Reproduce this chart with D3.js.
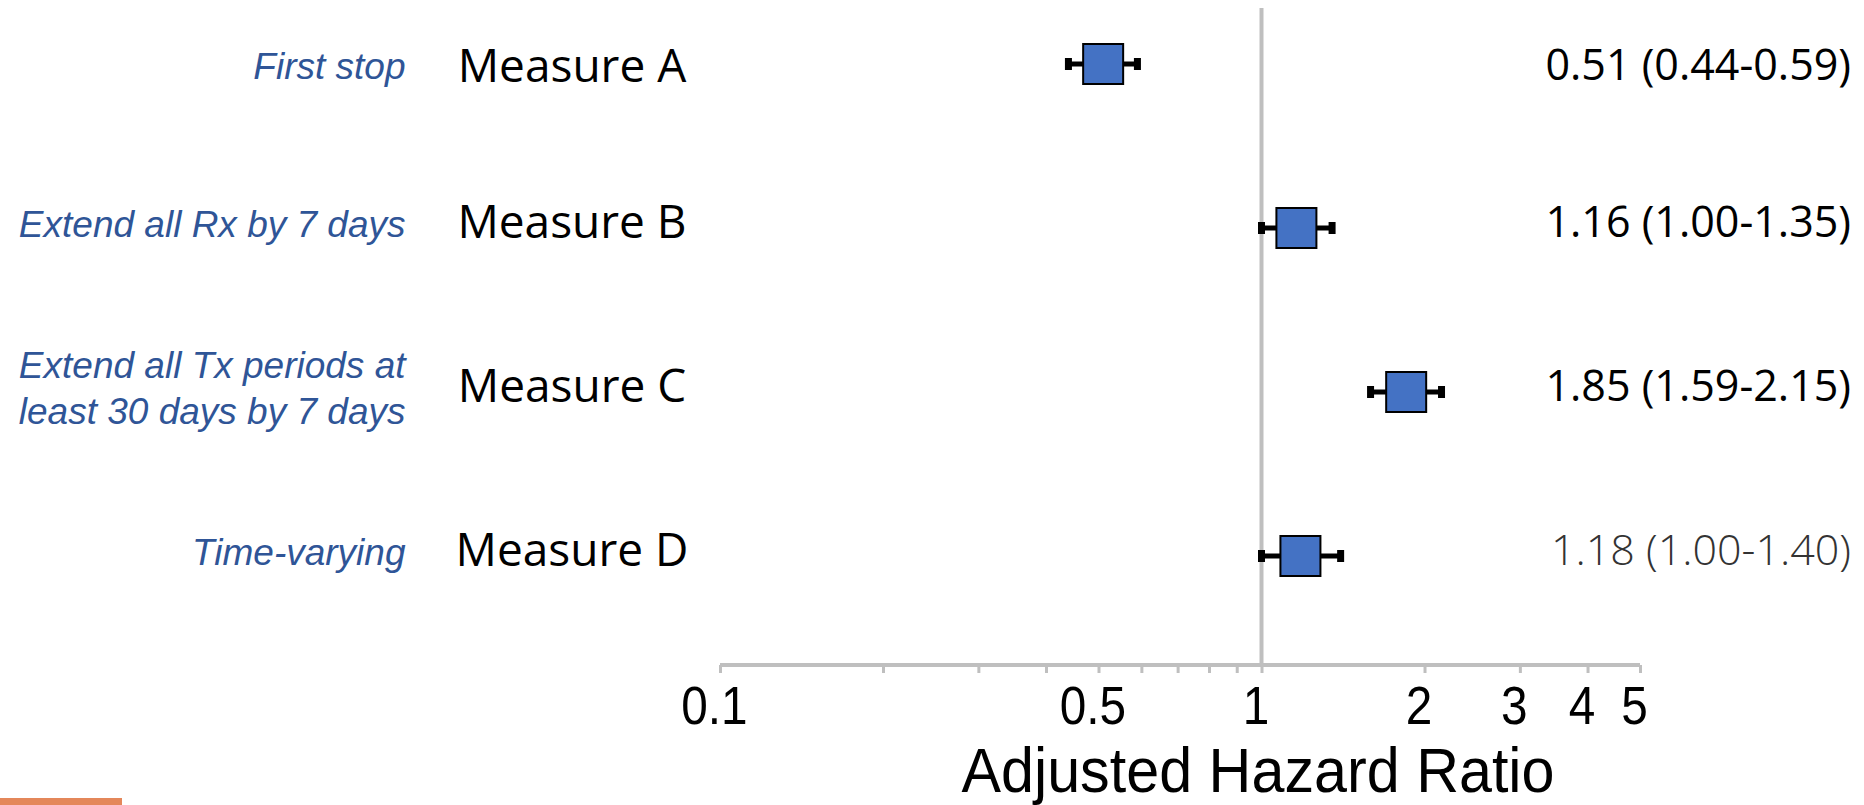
<!DOCTYPE html>
<html>
<head>
<meta charset="utf-8">
<script src="https://cdn.jsdelivr.net/npm/d3@7"></script>
<style>
  body { margin: 0; background: #fff; }
  svg { display: block; }
</style>
</head>
<body>
<svg id="chart" width="1864" height="805"></svg>
<script>
// rows, top to bottom
var measures = ["Measure A", "Measure B", "Measure C", "Measure D"];
var descriptions = [
  ["First stop"],
  ["Extend all Rx by 7 days"],
  ["Extend all Tx periods at", "least 30 days by 7 days"],
  ["Time-varying"]
];
var hazardRatio = [0.51, 1.16, 1.85, 1.18];
var ciLow = [0.44, 1.00, 1.59, 1.00];
var ciHigh = [0.59, 1.35, 2.15, 1.40];

// log axis
var tickValues = [0.1, 0.2, 0.3, 0.4, 0.5, 0.6, 0.7, 0.8, 0.9, 1, 2, 3, 4, 5];
var tickLabels = ["0.1", "0.5", "1", "2", "3", "4", "5"];

var rows = measures.map(function (m, i) {
  return { measure: m, desc: descriptions[i], hr: hazardRatio[i], lo: ciLow[i], hi: ciHigh[i] };
});

var svg = d3.select("#chart");
var axisY = 665;

var x = d3.scaleLog().domain([0.1, 5]).range([720, 1640]);
var y = d3.scalePoint().domain(measures).range([64, 556]);
var f2 = d3.format(".2f");

// x axis
var xAxisG = svg.append("g")
  .attr("transform", "translate(0," + axisY + ")")
  .call(d3.axisBottom(x)
    .tickValues(tickValues)
    .tickSize(8)
    .tickPadding(13)
    .tickFormat(function (d) {
      var s = String(d);
      return tickLabels.indexOf(s) >= 0 ? s : "";
    }));

xAxisG.select(".domain")
  .attr("d", "M" + x.range()[0] + ",0H" + x.range()[1])
  .attr("stroke", "#bfbfbf")
  .attr("stroke-width", 4);
xAxisG.selectAll(".tick line")
  .attr("stroke", "#bfbfbf")
  .attr("stroke-width", 3);
xAxisG.selectAll(".tick text")
  .attr("fill", "#000")
  .attr("font-family", "'Liberation Sans', Arial, sans-serif")
  .attr("font-size", 53)
  .attr("dx", -6)
  .each(function () {
    var w = this.getComputedTextLength();
    if (w > 0) {
      d3.select(this)
        .attr("textLength", w * 0.9)
        .attr("lengthAdjust", "spacingAndGlyphs");
    }
  });

// reference line at HR = 1
svg.append("line")
  .attr("x1", x(1)).attr("x2", x(1))
  .attr("y1", 8).attr("y2", axisY)
  .attr("stroke", "#bfbfbf")
  .attr("stroke-width", 4);

// axis title
svg.append("text")
  .attr("x", 1258)
  .attr("y", 792)
  .attr("text-anchor", "middle")
  .attr("font-family", "'Liberation Sans', Arial, sans-serif")
  .attr("font-size", 63)
  .attr("textLength", 593)
  .attr("lengthAdjust", "spacingAndGlyphs")
  .attr("fill", "#000")
  .text("Adjusted Hazard Ratio");

// confidence intervals
var ci = svg.append("g").selectAll("g.ci").data(rows).enter().append("g").attr("class", "ci");
ci.append("line")
  .attr("x1", function (d) { return x(d.lo); })
  .attr("x2", function (d) { return x(d.hi); })
  .attr("y1", function (d) { return y(d.measure); })
  .attr("y2", function (d) { return y(d.measure); })
  .attr("stroke", "#000")
  .attr("stroke-width", 5);
ci.selectAll("rect.cap")
  .data(function (d) { return [{ v: d.lo, m: d.measure }, { v: d.hi, m: d.measure }]; })
  .enter().append("rect")
  .attr("class", "cap")
  .attr("x", function (d) { return x(d.v) - 3.5; })
  .attr("y", function (d) { return y(d.m) - 6; })
  .attr("width", 7)
  .attr("height", 12)
  .attr("fill", "#000");

// point estimates
var boxSize = 40;
svg.append("g").selectAll("rect.hr").data(rows).enter().append("rect")
  .attr("class", "hr")
  .attr("x", function (d) { return x(d.hr) - boxSize / 2; })
  .attr("y", function (d) { return y(d.measure) - boxSize / 2; })
  .attr("width", boxSize)
  .attr("height", boxSize)
  .attr("fill", "#4472c4")
  .attr("stroke", "#000")
  .attr("stroke-width", 2);

// measure names
svg.append("g").selectAll("text").data(rows).enter().append("text")
  .attr("x", 572)
  .attr("y", function (d, i) { return y(d.measure) + (i === 0 ? 18 : 10); })
  .attr("text-anchor", "middle")
  .attr("font-family", "'Open Sans', sans-serif")
  .attr("font-size", 46)
  .attr("fill", "#000")
  .text(function (d) { return d.measure; });

// italic descriptions
var desc = svg.append("g").selectAll("text").data(rows).enter().append("text")
  .attr("text-anchor", "end")
  .attr("font-family", "'Liberation Sans', Arial, sans-serif")
  .attr("font-style", "italic")
  .attr("font-size", 37)
  .attr("fill", "#2f5597");
desc.selectAll("tspan")
  .data(function (d, i) {
    var n = d.desc.length;
    return d.desc.map(function (t, j) {
      return { t: t, y: y(d.measure) + (i === 0 ? 15 : 9) + (j - (n - 1) / 2) * 46 };
    });
  })
  .enter().append("tspan")
  .attr("x", 405.5)
  .attr("y", function (d) { return d.y; })
  .text(function (d) { return d.t; });

// values
svg.append("g").selectAll("text").data(rows).enter().append("text")
  .attr("x", 1851)
  .attr("y", function (d, i) { return y(d.measure) + (i === 0 ? 16 : 9); })
  .attr("text-anchor", "end")
  .attr("font-family", "'Open Sans', sans-serif")
  .attr("font-size", 43)
  .attr("font-weight", function (d, i) { return i === 3 ? 300 : 400; })
  .attr("fill", function (d, i) { return i === 3 ? "#333" : "#000"; })
  .text(function (d) { return f2(d.hr) + " (" + f2(d.lo) + "-" + f2(d.hi) + ")"; });

// orange corner strip
svg.append("rect")
  .attr("x", 0).attr("y", 798)
  .attr("width", 122).attr("height", 7)
  .attr("fill", "#e4875a");
</script>
</body>
</html>
